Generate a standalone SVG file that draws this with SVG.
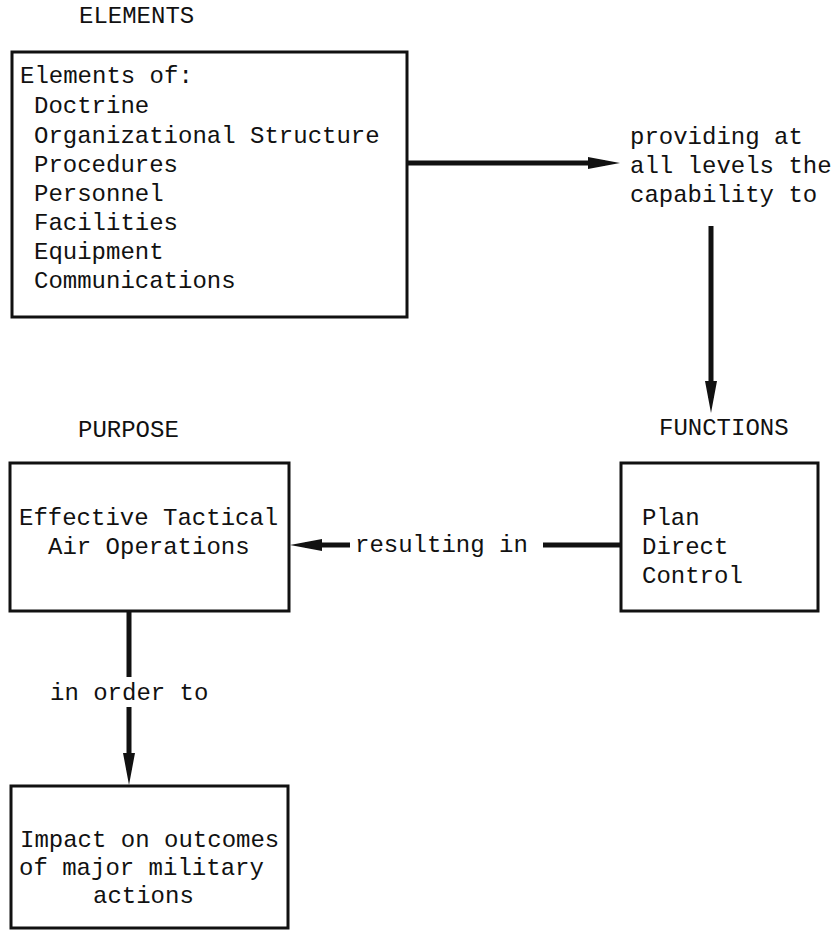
<svg xmlns="http://www.w3.org/2000/svg" width="839" height="930" viewBox="0 0 839 930">
  <style>
    text { font-family: "Liberation Mono", "DejaVu Sans Mono", monospace; font-size: 24px; fill: #111; }
    .box { fill: #fff; stroke: #111; stroke-width: 3; }
    .conn { stroke: #111; stroke-width: 5; fill: none; }
  </style>
  <defs>
    <marker id="arrow" viewBox="0 0 32 12" markerWidth="32" markerHeight="12" markerUnits="userSpaceOnUse" refX="17" refY="6" orient="auto">
      <path d="M0,0 L32,6 L0,12 Z" fill="#111"/>
    </marker>
  </defs>
  <rect width="839" height="930" fill="#fff"/>

  <g id="elements">
    <text x="79" y="23">ELEMENTS</text>
    <rect class="box" x="12" y="52" width="395" height="265"/>
    <text x="20" y="83">Elements of:</text>
    <text x="34" y="113">Doctrine</text>
    <text x="34" y="143">Organizational Structure</text>
    <text x="34" y="172">Procedures</text>
    <text x="34" y="201">Personnel</text>
    <text x="34" y="230">Facilities</text>
    <text x="34" y="259">Equipment</text>
    <text x="34" y="288">Communications</text>
  </g>

  <g id="capability-label">
    <text x="630" y="144">providing at</text>
    <text x="630" y="173">all levels the</text>
    <text x="630" y="202">capability to</text>
  </g>

  <g id="functions">
    <text x="659" y="435">FUNCTIONS</text>
    <rect class="box" x="621" y="463" width="197" height="148"/>
    <text x="642" y="525">Plan</text>
    <text x="642" y="554">Direct</text>
    <text x="642" y="583">Control</text>
  </g>

  <g id="purpose">
    <text x="78" y="437">PURPOSE</text>
    <rect class="box" x="10" y="463" width="279" height="148"/>
    <text x="19" y="525">Effective Tactical</text>
    <text x="48" y="554">Air Operations</text>
  </g>

  <g id="impact">
    <rect class="box" x="11" y="786" width="277" height="142"/>
    <text x="20" y="847">Impact on outcomes</text>
    <text x="19" y="875">of major military</text>
    <text x="93" y="903">actions</text>
  </g>

  <g id="connectors">
    <line class="conn" x1="407" y1="163" x2="605" y2="163" marker-end="url(#arrow)"/>
    <line class="conn" x1="711" y1="226" x2="711" y2="398" marker-end="url(#arrow)"/>
    <line class="conn" x1="621" y1="545" x2="543" y2="545"/>
    <line class="conn" x1="350" y1="545" x2="305" y2="545" marker-end="url(#arrow)"/>
    <text x="355" y="552">resulting in</text>
    <line class="conn" x1="129" y1="611" x2="129" y2="677"/>
    <text x="50" y="700">in order to</text>
    <line class="conn" x1="129" y1="707" x2="129" y2="770" marker-end="url(#arrow)"/>
  </g>
</svg>
